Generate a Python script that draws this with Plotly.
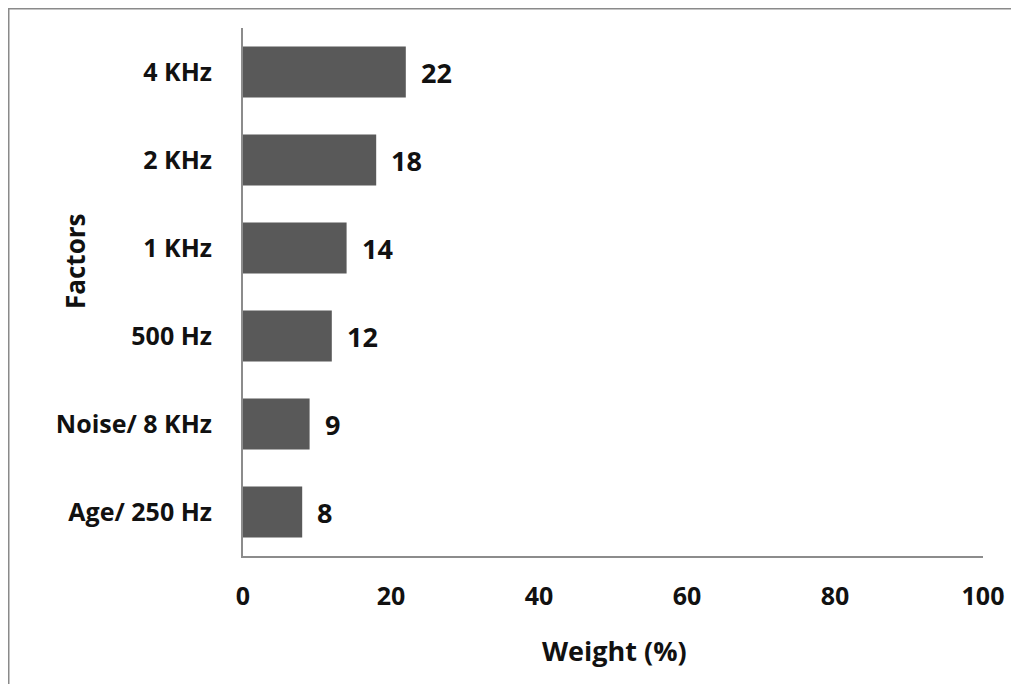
import plotly.graph_objects as go

categories = ["Age/ 250 Hz", "Noise/ 8 KHz", "500 Hz", "1 KHz", "2 KHz", "4 KHz"]
weights = [8, 9, 12, 14, 18, 22]
x_ticks = [0, 20, 40, 60, 80, 100]

FONT = "Open Sans"
TXT = "#111111"
W, H = 1019, 684
# page is offset by 8px; positions below are in figure pixels
L, T = 235, 20
PR, PB = 975, 548
R, B = W - PR, H - PB
pw, ph = PR - L, PB - T

fig = go.Figure(go.Bar(
    x=weights, y=categories, orientation="h",
    marker=dict(color="#595959", line=dict(width=0)),
    width=0.58, hoverinfo="x+y",
))

for c, v in zip(categories, weights):
    fig.add_annotation(x=v, y=c, text=str(v), showarrow=False, xanchor="left",
                       xshift=13, font=dict(family=FONT, size=27, color=TXT, weight="bold"))

def px_x(p):
    return (p - L) / pw

def px_y(p):
    return (PB - p) / ph

fig.add_annotation(xref="paper", yref="paper", x=px_x(606), y=px_y(642), text="Weight (%)",
                   xanchor="center", yanchor="middle", showarrow=False,
                   font=dict(family=FONT, size=27, color=TXT, weight="bold"))
fig.add_annotation(xref="paper", yref="paper", x=px_x(67), y=px_y(254), text="Factors",
                   xanchor="center", yanchor="middle", textangle=-90, showarrow=False,
                   font=dict(family=FONT, size=26, color=TXT, weight="bold"))

# outer frame (top and left edges)
fig.add_shape(type="line", xref="paper", yref="paper", x0=px_x(0), x1=px_x(W), y0=px_y(0.5), y1=px_y(0.5),
              line=dict(color="#8a8a8a", width=2))
fig.add_shape(type="line", xref="paper", yref="paper", x0=px_x(0.5), x1=px_x(0.5), y0=px_y(0), y1=px_y(H),
              line=dict(color="#8a8a8a", width=2))

fig.update_layout(
    width=W, height=H,
    margin=dict(l=L, r=R, t=T, b=B),
    paper_bgcolor="white", plot_bgcolor="white",
    showlegend=False,
    font=dict(family=FONT, size=25, color=TXT),
    xaxis=dict(range=[0, 100], tickvals=x_ticks, ticks="", showgrid=False, zeroline=False,
               showline=True, linecolor="#8c8c8c", linewidth=2,
               tickfont=dict(family=FONT, size=25, color=TXT, weight="bold"),
               ticklabelstandoff=17, fixedrange=True),
    yaxis=dict(categoryorder="array", categoryarray=categories, range=[-0.5, 5.5],
               ticks="", showgrid=False, zeroline=False,
               showline=True, linecolor="#8c8c8c", linewidth=2,
               tickfont=dict(family=FONT, size=25, color=TXT, weight="bold"),
               ticklabelstandoff=24, fixedrange=True),
)

fig.write_html("out.html")
